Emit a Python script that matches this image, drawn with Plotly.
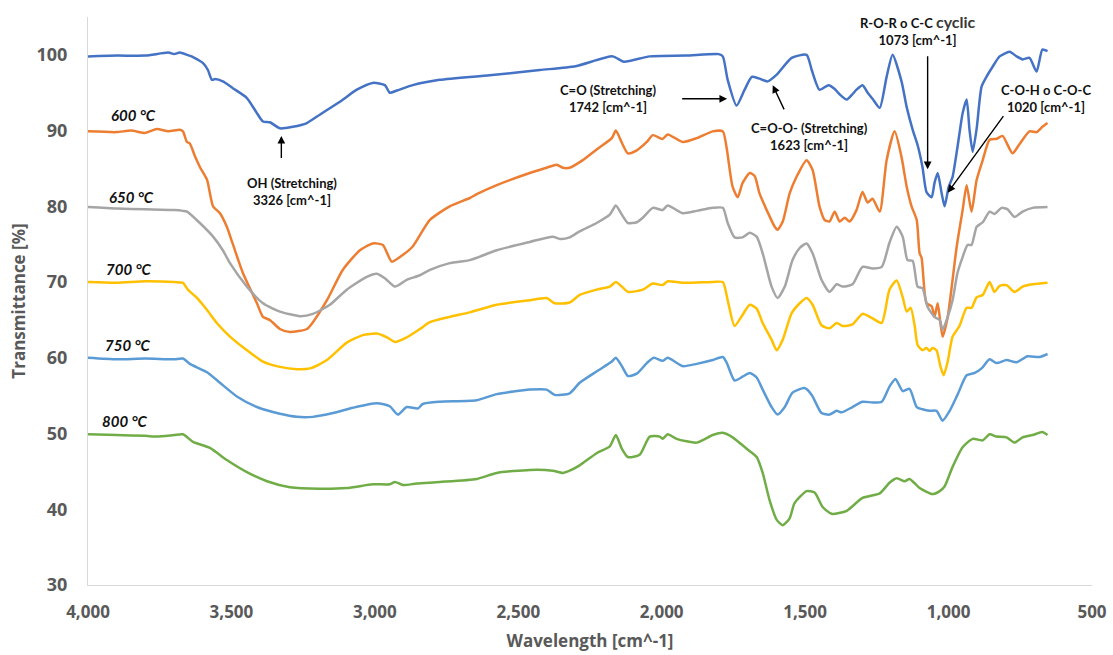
import plotly.graph_objects as go

# ---------------- data (wavenumber cm^-1, transmittance %) ----------------
SERIES_NAMES = ["Precursor", "600 °C", "650 °C", "700 °C", "750 °C", "800 °C"]
SERIES_COLORS = ["#4472C4", "#ED7D31", "#A5A5A5", "#FFC000", "#5B9BD5", "#70AD47"]

PRECURSOR = [(4000, 99.8), (3900, 99.9), (3800, 99.9), (3720, 100.3), (3700, 100.1), (3680, 100.3),
             (3655, 100.0), (3634, 99.7), (3599, 98.9), (3582, 98.0), (3568, 96.7), (3557, 96.8),
             (3530, 96.5), (3495, 95.6), (3446, 94.3), (3411, 92.3), (3390, 91.2), (3366, 91.1),
             (3331, 90.3), (3286, 90.5), (3237, 91.0), (3192, 92.1), (3122, 93.8), (3063, 95.4),
             (3007, 96.3), (2965, 96.0), (2948, 95.0), (2923, 95.3), (2868, 96.0), (2774, 96.7),
             (2600, 97.3), (2425, 98.0), (2300, 98.5), (2171, 99.8), (2132, 99.1), (2042, 99.8),
             (1916, 99.9), (1801, 100.1), (1787, 99.8), (1770, 96.7), (1739, 93.3), (1711, 95.4),
             (1686, 97.1), (1662, 96.9), (1631, 96.5), (1599, 97.4), (1547, 99.6), (1495, 100.0),
             (1477, 98.0), (1450, 95.4), (1418, 96.0), (1397, 95.5), (1380, 94.8), (1355, 94.1),
             (1335, 94.8), (1321, 95.4), (1300, 96.0), (1282, 95.0), (1265, 94.2), (1240, 93.0),
             (1216, 97.1), (1195, 100.0), (1164, 96.5), (1146, 93.1), (1125, 90.1), (1108, 88.1),
             (1091, 85.2), (1077, 81.9), (1059, 81.2), (1049, 83.1), (1038, 84.4), (1024, 81.7),
             (1014, 80.0), (1000, 82.5), (986, 83.9), (969, 87.8), (951, 92.3), (937, 94.1),
             (927, 90.1), (916, 87.2), (902, 90.3), (885, 95.8), (868, 97.1), (847, 98.4),
             (822, 99.8), (787, 100.4), (763, 99.8), (742, 99.4), (718, 99.6), (693, 97.8),
             (673, 100.7), (655, 100.5)]

T600 = [(4000, 89.9), (3900, 89.8), (3850, 90.0), (3800, 89.7), (3760, 90.2), (3720, 89.9),
        (3680, 90.1), (3669, 89.9), (3655, 88.5), (3645, 88.3), (3627, 86.6), (3610, 85.2),
        (3585, 83.5), (3564, 80.0), (3540, 79.1), (3516, 77.3), (3495, 75.0), (3460, 71.2),
        (3411, 67.2), (3390, 65.4), (3366, 65.0), (3331, 63.8), (3296, 63.4), (3237, 63.8),
        (3216, 64.7), (3167, 67.6), (3112, 71.6), (3052, 74.2), (3007, 75.1), (2972, 74.9),
        (2941, 72.7), (2902, 73.6), (2868, 74.7), (2808, 78.2), (2739, 80.0), (2669, 81.1),
        (2645, 81.6), (2575, 82.8), (2460, 84.4), (2401, 85.1), (2366, 85.5), (2345, 85.1),
        (2321, 85.1), (2275, 86.1), (2227, 87.5), (2174, 89.0), (2160, 90.0), (2139, 88.4),
        (2118, 87.0), (2087, 87.4), (2052, 88.5), (2031, 89.4), (1997, 88.9), (1979, 89.5),
        (1927, 88.5), (1878, 89.0), (1822, 89.9), (1787, 89.9), (1774, 87.8), (1753, 82.6),
        (1735, 81.2), (1718, 83.1), (1693, 84.4), (1676, 84.0), (1659, 81.7), (1634, 79.5),
        (1606, 77.3), (1596, 76.9), (1578, 78.0), (1554, 81.7), (1530, 83.9), (1495, 86.1),
        (1474, 84.8), (1450, 80.0), (1432, 78.2), (1415, 78.0), (1397, 79.3), (1380, 78.0),
        (1362, 78.5), (1345, 78.0), (1321, 79.5), (1300, 81.9), (1282, 80.5), (1265, 81.0),
        (1240, 79.3), (1216, 86.1), (1188, 89.9), (1164, 86.5), (1146, 82.6), (1129, 80.0),
        (1111, 78.2), (1101, 73.8), (1094, 73.2), (1077, 67.2), (1059, 66.8), (1049, 65.4),
        (1038, 67.2), (1021, 62.8), (1003, 65.4), (972, 74.6), (951, 79.5), (937, 82.8),
        (920, 79.3), (902, 83.5), (881, 86.1), (857, 88.8), (833, 88.9), (812, 89.3),
        (777, 87.0), (753, 88.2), (718, 89.9), (693, 89.8), (673, 90.5), (655, 91.0)]

T650 = [(4000, 79.9), (3900, 79.7), (3800, 79.6), (3700, 79.5), (3669, 79.4), (3655, 79.3),
        (3610, 77.8), (3564, 76.0), (3530, 74.2), (3505, 72.5), (3446, 69.4), (3390, 67.2),
        (3331, 66.1), (3261, 65.5), (3216, 65.8), (3157, 67.0), (3098, 69.0), (3028, 70.7),
        (2993, 71.1), (2965, 70.5), (2930, 69.4), (2889, 70.3), (2843, 70.9), (2808, 71.6),
        (2739, 72.5), (2669, 72.9), (2575, 74.2), (2460, 75.3), (2380, 76.0), (2355, 75.7),
        (2321, 75.9), (2286, 76.7), (2227, 77.8), (2181, 78.9), (2160, 80.1), (2139, 78.9),
        (2118, 77.8), (2087, 77.9), (2066, 78.5), (2031, 79.8), (1997, 79.5), (1979, 80.1),
        (1927, 79.1), (1878, 79.4), (1822, 79.8), (1787, 79.8), (1770, 77.8), (1746, 75.9),
        (1718, 75.9), (1693, 76.5), (1669, 76.0), (1648, 73.8), (1617, 69.4), (1596, 67.9),
        (1571, 69.4), (1544, 72.9), (1519, 74.5), (1495, 75.1), (1474, 73.8), (1443, 70.3),
        (1415, 68.7), (1390, 69.7), (1369, 69.4), (1335, 69.7), (1300, 72.0), (1265, 71.8),
        (1233, 72.0), (1206, 75.2), (1181, 77.3), (1160, 76.0), (1143, 72.9), (1125, 72.8),
        (1108, 69.4), (1091, 69.2), (1073, 66.7), (1049, 65.4), (1031, 65.0), (1021, 63.7),
        (1003, 65.4), (986, 67.6), (969, 71.2), (951, 73.3), (934, 74.9), (920, 74.9),
        (902, 77.3), (881, 77.9), (857, 79.3), (840, 79.0), (815, 79.8), (794, 79.6),
        (770, 78.6), (742, 79.3), (707, 79.8), (655, 79.9)]

T700 = [(4000, 70.0), (3900, 69.9), (3800, 70.1), (3700, 70.0), (3669, 69.9), (3652, 69.0),
        (3620, 67.9), (3585, 66.3), (3551, 64.6), (3505, 62.8), (3446, 61.0), (3390, 59.5),
        (3331, 58.8), (3272, 58.5), (3226, 58.6), (3167, 59.7), (3098, 62.0), (3042, 63.0),
        (2993, 63.2), (2958, 62.7), (2930, 62.1), (2889, 62.7), (2843, 63.8), (2808, 64.7),
        (2739, 65.4), (2669, 66.0), (2575, 67.0), (2460, 67.6), (2401, 67.9), (2373, 67.2),
        (2321, 67.3), (2286, 68.3), (2227, 69.0), (2181, 69.4), (2160, 70.0), (2139, 69.4),
        (2118, 68.7), (2066, 69.0), (2031, 69.8), (1997, 69.6), (1979, 70.1), (1927, 69.9),
        (1822, 70.0), (1787, 70.0), (1770, 67.6), (1746, 64.2), (1721, 65.5), (1693, 67.0),
        (1669, 66.5), (1648, 64.6), (1617, 62.4), (1599, 61.0), (1578, 62.4), (1547, 65.9),
        (1519, 67.2), (1495, 67.9), (1474, 67.0), (1443, 64.3), (1415, 63.9), (1390, 64.6),
        (1369, 64.2), (1335, 64.4), (1300, 65.8), (1265, 65.2), (1233, 64.6), (1206, 69.0),
        (1181, 70.2), (1160, 68.0), (1146, 66.1), (1132, 66.6), (1118, 64.2), (1108, 61.7),
        (1091, 61.0), (1077, 61.3), (1066, 60.9), (1056, 61.3), (1042, 61.0), (1028, 58.8),
        (1017, 57.7), (1003, 59.5), (986, 62.8), (962, 64.2), (937, 66.6), (920, 66.6),
        (902, 68.0), (881, 68.3), (857, 70.0), (840, 68.7), (822, 69.5), (798, 69.6),
        (770, 68.7), (742, 69.4), (707, 69.7), (655, 69.9)]

T750 = [(4000, 60.0), (3900, 59.8), (3800, 59.9), (3700, 59.8), (3669, 59.9), (3645, 59.2),
        (3585, 58.1), (3540, 56.7), (3481, 54.9), (3411, 53.5), (3331, 52.6), (3272, 52.2),
        (3216, 52.2), (3146, 52.7), (3077, 53.4), (2993, 54.0), (2948, 53.6), (2920, 52.5),
        (2889, 53.5), (2850, 53.3), (2833, 53.9), (2774, 54.2), (2645, 54.4), (2575, 55.2),
        (2460, 55.8), (2401, 55.8), (2373, 55.1), (2321, 55.3), (2286, 56.7), (2227, 58.2),
        (2174, 59.5), (2160, 60.0), (2139, 58.9), (2118, 57.6), (2087, 57.9), (2052, 59.3),
        (2028, 60.0), (1997, 59.6), (1979, 60.0), (1927, 58.9), (1878, 59.2), (1822, 59.7),
        (1787, 60.1), (1774, 59.4), (1746, 57.0), (1718, 57.5), (1693, 58.0), (1669, 57.4),
        (1648, 55.8), (1617, 53.5), (1596, 52.5), (1571, 53.5), (1544, 55.4), (1502, 56.0),
        (1477, 55.1), (1443, 52.7), (1415, 52.5), (1390, 53.0), (1373, 52.8), (1335, 53.5),
        (1300, 54.2), (1265, 54.1), (1233, 54.2), (1206, 56.2), (1185, 57.2), (1160, 55.6),
        (1136, 55.9), (1111, 53.5), (1091, 53.2), (1066, 53.0), (1042, 53.0), (1021, 51.7),
        (996, 53.0), (969, 55.1), (937, 57.7), (909, 58.0), (885, 58.6), (857, 59.8),
        (833, 59.3), (798, 59.7), (763, 59.4), (725, 60.2), (683, 60.1), (655, 60.5)]

T800 = [(4000, 49.9), (3900, 49.8), (3800, 49.7), (3760, 49.6), (3700, 49.8), (3669, 49.9),
        (3634, 48.9), (3575, 48.1), (3516, 46.5), (3446, 44.9), (3376, 43.7), (3296, 42.9),
        (3192, 42.7), (3098, 42.8), (3007, 43.3), (2948, 43.3), (2930, 43.6), (2902, 43.2),
        (2854, 43.4), (2774, 43.6), (2645, 44.0), (2575, 44.8), (2460, 45.2), (2380, 45.1),
        (2345, 44.8), (2321, 45.1), (2286, 45.8), (2227, 47.4), (2181, 48.3), (2160, 49.8),
        (2139, 48.0), (2118, 46.9), (2077, 47.2), (2042, 49.6), (2007, 49.6), (1997, 49.3),
        (1979, 49.9), (1948, 49.3), (1878, 48.8), (1822, 49.8), (1787, 50.1), (1753, 49.5),
        (1704, 48.0), (1669, 46.9), (1648, 44.8), (1624, 41.2), (1599, 38.6), (1578, 37.9),
        (1554, 38.8), (1537, 40.8), (1495, 42.4), (1467, 42.2), (1439, 40.3), (1408, 39.4),
        (1355, 39.8), (1300, 41.5), (1240, 42.1), (1206, 43.5), (1181, 44.1), (1153, 43.7),
        (1136, 44.0), (1101, 42.8), (1056, 42.0), (1031, 42.4), (1014, 43.0), (986, 45.6),
        (951, 48.2), (916, 49.3), (881, 49.1), (857, 49.9), (833, 49.6), (798, 49.5),
        (770, 48.8), (742, 49.5), (707, 49.8), (673, 50.2), (655, 49.8)]

SERIES_DATA = [PRECURSOR, T600, T650, T700, T750, T800]

X_TICKS = [4000, 3500, 3000, 2500, 2000, 1500, 1000, 500]
X_TICK_TEXT = ["4,000", "3,500", "3,000", "2,500", "2,000", "1,500", "1,000", "500"]
Y_TICKS = [30, 40, 50, 60, 70, 80, 90, 100]

# ---------------- figure ----------------
fig = go.Figure()
for name, color, data in zip(SERIES_NAMES, SERIES_COLORS, SERIES_DATA):
    xs = [p[0] for p in data]
    ys = [p[1] for p in data]
    fig.add_trace(go.Scatter(x=xs, y=ys, mode="lines", name=name,
                             line=dict(color=color, width=2.5, shape="spline", smoothing=0.6),
                             showlegend=False, hoverinfo="skip"))

TXT = dict(family="Lato, Open Sans, sans-serif", size=13, color="#111111")
annotations = []

# temperature labels
for label, xv, yv in [("600 °C", 3840, 92.1), ("650 °C", 3847, 81.2), ("700 °C", 3857, 71.7),
                      ("750 °C", 3861, 61.7), ("800 °C", 3871, 51.7)]:
    annotations.append(dict(x=xv, y=yv, xref="x", yref="y", showarrow=False,
                            text="<b><i>" + label + "</i></b>",
                            font=dict(family="Lato, Open Sans, sans-serif", size=15, color="#111111")))

# band labels
band_labels = [
    ("<b>OH (Stretching)<br>3326 [cm^-1]</b>", 3289, 82.0),
    ("<b>C=O (Stretching)<br>1742 [cm^-1]</b>", 2188, 94.3),
    ("<b>C=O-O- (Stretching)<br>1623 [cm^-1]</b>", 1484, 89.2),
    ("<b>R-O-R o C-C <span style='font-size:16px;color:#3a3a3a'>cyclic</span><br>1073 [cm^-1]</b>", 1108, 103.3),
    ("<b>C-O-H o C-O-C<br>1020 [cm^-1]</b>", 659, 94.2),
]
for text, xv, yv in band_labels:
    annotations.append(dict(x=xv, y=yv, xref="x", yref="y", showarrow=False, text=text,
                            font=TXT, align="center"))

# arrows: (tip_x, tip_y, tail_x, tail_y)
arrows = [
    (3326, 89.3, 3326, 86.2),
    (1772, 94.2, 1934, 94.2),
    (1613, 96.0, 1571, 92.6),
    (1073, 84.9, 1073, 100.0),
    (1003, 81.8, 805, 92.1),
]
for tx, ty, sx, sy in arrows:
    annotations.append(dict(x=tx, y=ty, ax=sx, ay=sy, xref="x", yref="y", axref="x", ayref="y",
                            text="", showarrow=True, arrowhead=2, arrowsize=1.1, arrowwidth=1.4,
                            arrowcolor="#000000", standoff=0, startstandoff=0))

AXFONT = dict(family="Open Sans, sans-serif", size=17, color="#595959")
fig.update_layout(
    width=1113, height=655,
    margin=dict(l=88, r=21, t=17, b=70, autoexpand=False),
    paper_bgcolor="white", plot_bgcolor="white",
    hovermode=False,
    annotations=annotations,
    xaxis=dict(range=[4000, 500], tickvals=X_TICKS, ticktext=X_TICK_TEXT, automargin=False,
               showgrid=False, zeroline=False, showline=True, linecolor="#D9D9D9", linewidth=1,
               ticks="", ticklabelstandoff=12,
               tickfont=dict(family="Open Sans, sans-serif", size=17, color="#595959", weight="bold"),
               title=dict(text="<b>Wavelength [cm^-1]</b>", font=AXFONT, standoff=12)),
    yaxis=dict(range=[30, 105], tickvals=Y_TICKS, automargin=False,
               showgrid=False, zeroline=False, showline=True, linecolor="#D9D9D9", linewidth=1,
               ticks="", ticklabelstandoff=16,
               tickfont=dict(family="Open Sans, sans-serif", size=18, color="#595959", weight="bold"),
               title=dict(text="<b>Transmittance [%]</b>", font=AXFONT, standoff=6)),
)

fig.write_html("out.html", config={"displayModeBar": False},
               post_script="document.body.style.margin='0';document.body.style.overflow='hidden';")
